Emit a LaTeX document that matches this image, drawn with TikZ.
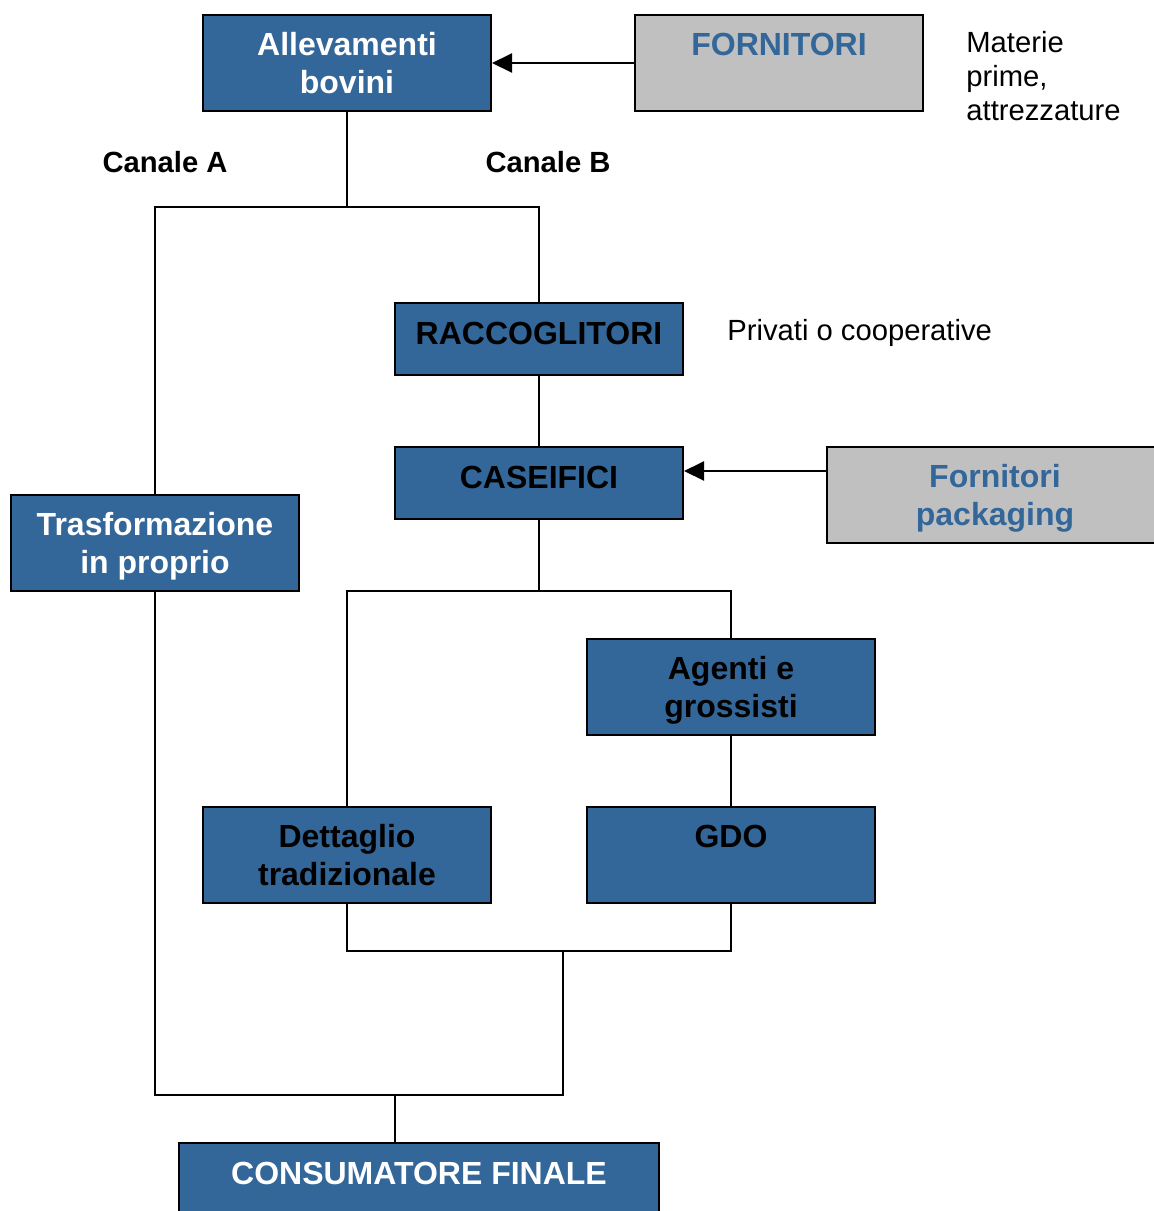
\documentclass[tikz,border=0pt]{standalone}
\usepackage{fontspec}
\setmainfont{Liberation Sans}
\usetikzlibrary{arrows.meta}
\definecolor{boxblue}{HTML}{336699}
\definecolor{boxgrey}{HTML}{C0C0C0}
\begin{document}
\begin{tikzpicture}[x=0.5pt,y=-0.5pt]
        \tikzset{blue box/.style={draw,fill=boxblue,line width=1pt,minimum width=144pt,minimum height=#1,inner sep=0pt,align=center,text depth=0pt,font=\fontsize{16}{19}\selectfont\bfseries},
                 grey box/.style={draw,fill=boxgrey,line width=1pt,minimum width=144pt,minimum height=48pt,inner sep=0pt,align=center,text depth=0pt,text=boxblue,font=\fontsize{16}{19}\selectfont\bfseries},
                 note/.style={anchor=west,align=left,inner sep=0pt,font=\fontsize{14.6}{17}\selectfont},
                 link/.style={line width=1pt},
                 feed/.style={line width=1pt,-{Triangle[length=10pt,width=9.5pt]}}}

        \useasboundingbox (0,0) rectangle (1153,1211);

        \node[blue box=48pt,text=white] (allev) at (347,63) {Allevamenti\\bovini};
        \node[grey box] (forn) at (779,63) {FORNITORI\\\mbox{}};
        \node[note] (mat) at (966,76) {Materie\\prime,\\attrezzature};

        \node[font=\fontsize{14.6}{19}\selectfont\bfseries] (canA) at (165,162) {Canale A};
        \node[font=\fontsize{14.6}{19}\selectfont\bfseries] (canB) at (548,162) {Canale B};

        \node[blue box=36pt,text depth=6pt] (racc) at (539,339) {RACCOGLITORI};
        \node[note] (priv) at (727,333) {Privati o cooperative};
        \node[blue box=36pt,text depth=6pt] (case) at (539,483) {CASEIFICI};
        \node[grey box,minimum width=168pt] (forpack) at (995,495) {Fornitori\\packaging};

        \node[blue box=48pt,text=white] (trasf) at (155,543) {Trasformazione\\in proprio};
        \node[blue box=48pt] (agenti) at (731,687) {Agenti e\\grossisti};
        \node[blue box=48pt] (dett) at (347,855) {Dettaglio\\tradizionale};
        \node[blue box=48pt] (gdo) at (731,855) {GDO\\\mbox{}};
        \node[blue box=36pt,minimum width=240pt,text depth=6pt,text=white] (cons) at (419,1179) {CONSUMATORE FINALE};

        % junctions
        \coordinate (jA) at (347,207);
        \coordinate (jB) at (539,591);
        \coordinate (jC) at (563,951);
        \coordinate (jD) at (395,1095);

        \draw[feed] (forn.west |- allev.east) -- (allev.east);
        \draw[feed] (forpack.west |- 0,471) -- (case.east |- 0,471);

        \draw[link] (allev.south) -- (jA);
        \draw[link] (trasf.north) |- (jA) -| (racc.north);
        \draw[link] (racc) -- (case);
        \draw[link] (case.south) -- (jB);
        \draw[link] (dett.north) |- (jB) -| (agenti.north);
        \draw[link] (agenti) -- (gdo);
        \draw[link] (dett.south) |- (jC) -| (gdo.south);
        \draw[link] (trasf.south) |- (jD) -| (jC);
        \draw[link] (jD) -- (jD |- cons.north);
    \end{tikzpicture}
\end{document}
